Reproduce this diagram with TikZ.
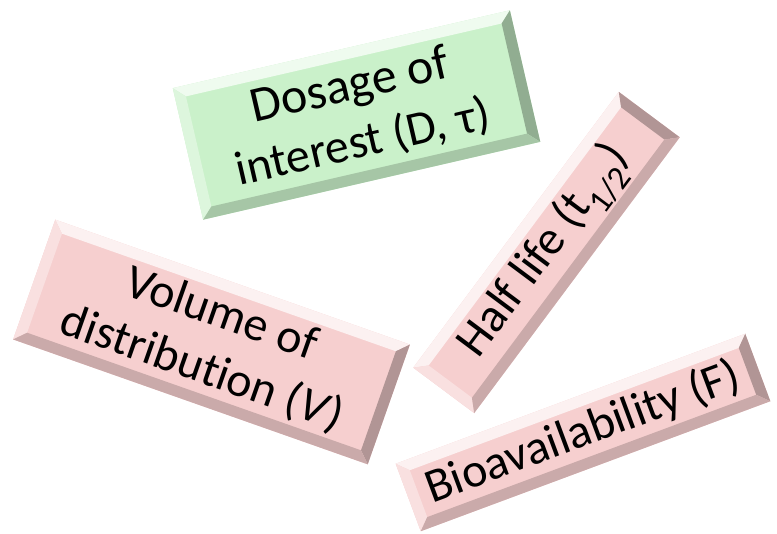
\documentclass[tikz,border=0pt]{standalone}
\usepackage{fontspec}
\setmainfont{Carlito}[Ligatures=CommonOff]

\definecolor{verde}{RGB}{202,241,202}
\definecolor{rosa}{RGB}{246,207,207}

\tikzset{
    texto/.style={align=center, font=\fontsize{48}{58}\selectfont, transform shape, inner sep=0pt},
}

% Ancho del bisel
\newcommand{\bisel}{11}

% Caja con bisel: nombre, centro, angulo, ancho, alto, color, texto
\newcommand{\caja}[7]{%
    \begin{scope}[shift={(#2)}, rotate=#3]
        \pgfmathsetmacro{\ww}{#4/2}
        \pgfmathsetmacro{\hh}{#5/2}
        \pgfmathsetmacro{\wi}{#4/2-\bisel}
        \pgfmathsetmacro{\hi}{#5/2-\bisel}
        % Cara
        \fill[#6] (-\ww,-\hh) rectangle (\ww,\hh);
        % Bisel arriba e izquierda
        \fill[#6!30!white] (-\ww,\hh) -- (\ww,\hh) -- (\wi,\hi) -- (-\wi,\hi) -- cycle;
        \fill[#6!65!white] (-\ww,\hh) -- (-\wi,\hi) -- (-\wi,-\hi) -- (-\ww,-\hh) -- cycle;
        % Bisel derecha y abajo
        \fill[#6!72!black] (\ww,\hh) -- (\wi,\hi) -- (\wi,-\hi) -- (\ww,-\hh) -- cycle;
        \fill[#6!82!black] (-\ww,-\hh) -- (\ww,-\hh) -- (\wi,-\hi) -- (-\wi,-\hi) -- cycle;
        % Texto
        \node[texto] (#1) at (0,0) {#7};
    \end{scope}}

\begin{document}
\begin{tikzpicture}[x=1pt, y=1pt]

    % Marco
    \useasboundingbox (0,0) rectangle (777,534);

    % Dosis
    \caja{dosis}{356.5,419}{13}{346}{135}{verde}{\fontsize{50}{60}\selectfont Dosage of\\interest (D, τ)}

    % Volumen
    \caja{volumen}{211.5,192}{-19.4}{376}{127}{rosa}{Volume of\\distribution (\textit{V})}

    % Vida media
    \caja{vida}{546.5,281.5}{53.3}{344}{76}{rosa}{Half life (t\textsubscript{1/2})}

    % Biodisponibilidad
    \caja{biodisp}{583,101.5}{20.4}{373}{72}{rosa}{Bioavailability (F)}

\end{tikzpicture}
\end{document}
